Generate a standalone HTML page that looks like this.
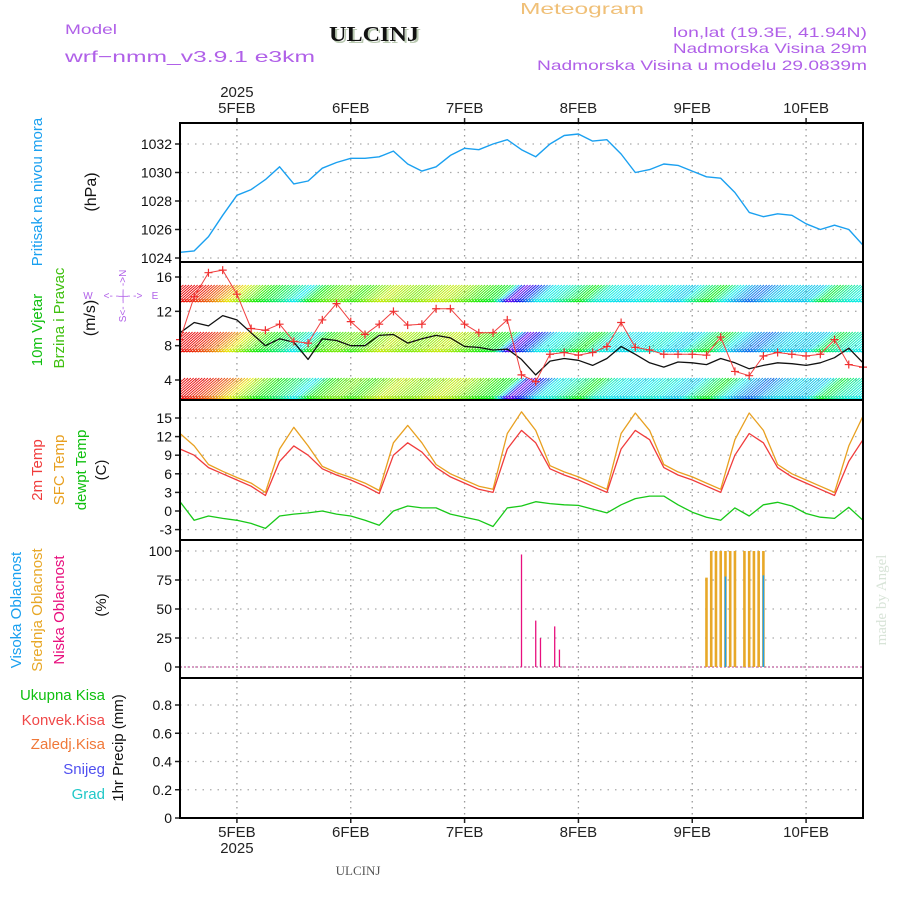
<!DOCTYPE html>
<html><head><meta charset="utf-8"><style>
html,body{margin:0;padding:0;background:#fff;}
svg{display:block;font-family:"Liberation Sans","DejaVu Sans",sans-serif;}
</style></head><body>
<svg id="c" width="900" height="900" viewBox="0 0 900 900" xmlns="http://www.w3.org/2000/svg">
<g>
<text x="65" y="34" font-size="14" fill="#b060e8" textLength="52" lengthAdjust="spacingAndGlyphs">Model</text>
<text x="65" y="62" font-size="16" fill="#b060e8" textLength="250" lengthAdjust="spacingAndGlyphs">wrf−nmm_v3.9.1  e3km</text>
<text x="331" y="43" font-size="21" font-weight="bold" font-family="Liberation Serif,serif" fill="#b8c8b0" textLength="90" lengthAdjust="spacingAndGlyphs">ULCINJ</text>
<text x="329" y="41" font-size="21" font-weight="bold" font-family="Liberation Serif,serif" fill="#111" textLength="90" lengthAdjust="spacingAndGlyphs">ULCINJ</text>
<text x="520" y="14" font-size="16" fill="#f0c078" textLength="124" lengthAdjust="spacingAndGlyphs">Meteogram</text>
<text x="867" y="37" font-size="14" fill="#b060e8" text-anchor="end" textLength="194" lengthAdjust="spacingAndGlyphs">lon,lat (19.3E, 41.94N)</text>
<text x="867" y="53" font-size="14" fill="#b060e8" text-anchor="end" textLength="194" lengthAdjust="spacingAndGlyphs">Nadmorska Visina 29m</text>
<text x="867" y="70" font-size="14" fill="#b060e8" text-anchor="end" textLength="330" lengthAdjust="spacingAndGlyphs">Nadmorska Visina u modelu 29.0839m</text>
<text x="358" y="875" font-size="13" font-family="Liberation Serif,serif" fill="#555" text-anchor="middle">ULCINJ</text>
<text transform="translate(886,600) rotate(-90)" font-size="15" font-family="Liberation Serif,serif" fill="#d8e4d8" text-anchor="middle">made by Angel</text>
</g>
<g id="grid"></g>
<g id="marks"></g>
<g id="frames"></g>
<g id="labels"></g>
</svg>
<script>
// ---- data (3-hourly from 4FEB 12z to 10FEB 12z) ----
const dateLabels = ["5FEB","6FEB","7FEB","8FEB","9FEB","10FEB"];
const pressure = [1024.4,1024.5,1025.5,1027.0,1028.4,1028.8,1029.5,1030.4,1029.2,1029.4,1030.3,1030.7,1031.0,1031.0,1031.1,1031.5,1030.6,1030.1,1030.4,1031.2,1031.7,1031.6,1032.0,1032.3,1031.6,1031.1,1032.0,1032.6,1032.7,1032.2,1032.3,1031.3,1030.0,1030.2,1030.6,1030.5,1030.1,1029.7,1029.6,1028.6,1027.2,1026.9,1027.1,1027.0,1026.4,1026.0,1026.3,1026.0,1024.9];
const windSpeed = [9.5,10.7,10.3,11.5,11.0,9.5,8.0,8.8,8.4,6.4,8.8,8.6,8.0,8.0,9.2,9.3,8.3,8.8,9.2,8.9,7.9,7.8,7.5,7.6,6.4,4.6,6.2,6.5,6.3,5.7,6.5,7.9,7.0,6.0,5.5,6.1,6.0,5.8,6.5,6.0,5.3,5.7,6.0,5.9,5.7,6.0,6.6,7.7,6.0];
const windGust = [8.7,13.7,16.5,16.8,14.0,10.0,9.8,10.5,8.5,8.3,11.0,12.9,10.8,9.3,10.5,12.0,10.4,10.5,12.3,12.3,10.5,9.5,9.5,11.0,4.6,3.8,7.0,7.2,6.9,7.2,7.9,10.7,7.8,7.5,7.0,7.0,7.0,6.9,9.0,5.0,4.5,6.8,7.2,7.0,6.8,7.0,8.7,5.8,5.5];
const windHue = [0,10,25,50,80,110,130,150,185,120,100,90,110,90,70,80,90,80,70,80,100,115,130,270,230,180,175,150,120,170,180,185,180,170,185,190,150,120,175,200,215,195,185,190,190,130,160,175,180];
const temp2m = [10.0,9.0,7.0,6.0,5.0,4.0,2.5,8.0,10.5,9.0,6.8,5.8,5.0,4.0,2.8,9.0,11.0,9.5,7.0,5.5,4.5,3.5,3.0,10.0,13.0,11.0,6.8,5.8,5.0,4.0,3.0,10.0,13.0,11.5,7.0,5.8,5.0,4.0,3.0,9.0,12.5,11.0,7.0,5.5,4.5,3.5,2.5,8.0,11.5];
const tempSfc = [12.5,10.5,7.5,6.4,5.4,4.5,3.0,10.0,13.5,10.5,7.2,6.2,5.4,4.5,3.3,11.0,13.8,11.0,7.5,6.0,5.0,4.0,3.5,12.5,16.0,13.0,7.3,6.3,5.5,4.5,3.5,12.5,15.8,13.0,7.5,6.3,5.5,4.5,3.5,11.5,15.8,13.0,7.5,6.0,5.0,4.0,3.0,10.5,15.3];
const dewPoint = [1.5,-1.5,-0.8,-1.2,-1.5,-2.0,-2.8,-0.8,-0.5,-0.3,0.0,-0.5,-0.8,-1.5,-2.3,0.0,0.8,0.5,0.5,-0.5,-1.0,-1.5,-2.5,0.5,0.8,1.5,1.2,1.0,0.9,0.3,-0.3,1.0,2.0,2.4,2.4,1.0,-0.2,-1.0,-1.5,0.5,-0.8,1.0,1.4,0.8,-0.4,-1.0,-1.2,0.6,-1.5];
const lowCloudHours = [72,75,76,79,80];
const lowCloudPct = [97,40,25,35,15];
const midCloudHours = [111,112,113,114,115,116,117,119,120,121,122,123];
const midCloudPct = [77,100,100,100,100,100,100,100,100,100,100,100];
const highCloudHours = [115,123];
const highCloudPct = [78,79];
const pTicks = [1024,1026,1028,1030,1032];
const wTicks = [4,8,12,16];
const tTicks = [-3,0,3,6,9,12,15];
const cTicks = [0,25,50,75,100];
const rTicks = [0,0.2,0.4,0.6,0.8];

const NS="http://www.w3.org/2000/svg";
const X0=180,X1=863,HRS=144;
const xh=h=>X0+h*(X1-X0)/HRS;
const lin=(v0,y0,v1,y1)=>v=>y0+(v-v0)*(y1-y0)/(v1-v0);
const yP=lin(1024,258,1032,144), yW=lin(4,380,16,277), yT=lin(0,511,15,418), yC=lin(0,667,100,551), yR=lin(0,818,0.8,705);
const panels=[[123,262],[262,400],[400,540],[540,678],[678,818]];
function el(tag,attrs,parent){const e=document.createElementNS(NS,tag);for(const k in attrs)e.setAttribute(k,attrs[k]);parent.appendChild(e);return e;}
const G=document.getElementById('grid'),M=document.getElementById('marks'),F=document.getElementById('frames'),L=document.getElementById('labels');

dateLabels.forEach((d,i)=>{
  const x=xh(12+24*i);
  const g=el('line',{x1:x,x2:x,y1:123,y2:818,stroke:'#999','stroke-width':1.3,'stroke-dasharray':'1.5,4.5'},G);
  
  
  const t=el('text',{x:x,y:113,'font-size':15,'text-anchor':'middle',fill:'#222'},L);t.textContent=d;
  
  
  const b=el('text',{x:x,y:837,'font-size':15,'text-anchor':'middle',fill:'#222'},L);b.textContent=d;
  
  
  [123,818].forEach(yy=>{const tk=el('line',{x1:x,x2:x,y1:yy,y2:yy+(yy==123?-5:5),stroke:'#222','stroke-width':1.5},F);
    
    });
});
[[97,'top-year'],[853,'bottom-year']].forEach(([yy,n])=>{const t=el('text',{x:xh(12),y:yy,'font-size':15,'text-anchor':'middle',fill:'#222'},L);t.textContent='2025';
  
  });

function yTicks(ticks,fy,fmt,name){
  ticks.forEach(v=>{const y=fy(v);
    const g=el('line',{x1:X0,x2:X1,y1:y,y2:y,stroke:'#aaa','stroke-width':1.3,'stroke-dasharray':'1.5,6'},G);
    
    
    const tk=el('line',{x1:X0-5,x2:X0,y1:y,y2:y,stroke:'#222','stroke-width':1.5},F);
    
    
    const t=el('text',{x:X0-8,y:y+5,'font-size':14,'text-anchor':'end',fill:'#111'},L);t.textContent=fmt(v);
    
    });
}
yTicks(pTicks,yP,v=>v,'pressure');
yTicks(wTicks,yW,v=>v,'wind');
yTicks(tTicks,yT,v=>v,'temp');
yTicks(cTicks,yC,v=>v,'cloud');
yTicks(rTicks,yR,v=>v==0?'0':v.toFixed(1),'precip');

function line(arr,fy,color,w,name){
  const pts=arr.map((v,i)=>xh(i*3).toFixed(1)+','+fy(v).toFixed(1)).join(' ');
  const p=el('polyline',{points:pts,fill:'none',stroke:color,'stroke-width':w,'stroke-linejoin':'round'},M);
  
  
  return p;
}
const bands=[[285,302],[332,352],[378,399]];
const hueAt=h=>{const i=Math.min(Math.floor(h/3),windHue.length-2),f=h/3-i;return windHue[i]+(windHue[i+1]-windHue[i])*f;};
const defs=el('defs',{},document.getElementById('c'));
const cp=el('clipPath',{id:'wclip'},defs);el('rect',{x:X0,y:262,width:X1-X0,height:138},cp);
const wb=el('g',{'clip-path':'url(#wclip)'},M);


for(let h=-4;h<=HRS;h+=0.6){
  const x=xh(h),col='hsl('+hueAt(Math.max(0,h))+',92%,48%)';
  bands.forEach(([t,b])=>{
    const l=el('line',{x1:x,y1:b,x2:x+(b-t)*1.15,y2:t,stroke:col,'stroke-width':0.9},wb);
    
    
    const a=el('path',{d:`M${x-2},${b-3}L${x},${b}L${x+3},${b-1}`,fill:'none',stroke:col,'stroke-width':0.9},wb);
    
    
  });
}
line(pressure,yP,'#1aa0f0',1.4,'pressure-line');
line(windSpeed,yW,'#111',1.3,'wind-speed-line');
line(windGust,yW,'#f04040',1,'wind-gust-line');
windGust.forEach((v,i)=>{const x=xh(i*3),y=yW(v);
  const c=el('path',{d:`M${x-4},${y}h8M${x},${y-4}v8`,stroke:'#f03030','stroke-width':1.2},M);
  
  });
line(tempSfc,yT,'#e8a020',1.3,'sfc-temp-line');
line(temp2m,yT,'#f03c3c',1.3,'temp-2m-line');
line(dewPoint,yT,'#18c818',1.3,'dewpoint-line');
const cb=el('line',{x1:X0,x2:X1,y1:yC(0),y2:yC(0),stroke:'#c060a0','stroke-width':1.2,'stroke-dasharray':'2,2'},M);


function bars(hours,vals,color,w,name){hours.forEach((h,i)=>{
  const r=el('line',{x1:xh(h),x2:xh(h),y1:yC(0),y2:yC(vals[i]),stroke:color,'stroke-width':w},M);
  
  });}
bars(midCloudHours,midCloudPct,'#e8a828',2.6,'mid-cloud-bar');
bars(lowCloudHours,lowCloudPct,'#e8107e',1.3,'low-cloud-bar');
bars(highCloudHours,highCloudPct,'#1a9ff0',1.6,'high-cloud-bar');
const rb=el('line',{x1:X0,x2:X1,y1:818,y2:818,stroke:'#222','stroke-width':2,'stroke-dasharray':'5,2'},M);


panels.forEach(([t,b])=>{const r=el('rect',{x:X0,y:t,width:X1-X0,height:b-t,fill:'none',stroke:'#000','stroke-width':2},F);
  
  });

function vlabel(x,y,txt,color,name,size){
  const t=el('text',{transform:`translate(${x},${y}) rotate(-90)`,'font-size':size||15,'text-anchor':'middle',fill:color},L);t.textContent=txt;
  
  }
vlabel(42,192,'Pritisak  na  nivou  mora','#1aa0f0','pressure-title');
vlabel(96,192,'(hPa)','#111','pressure-unit',16);
vlabel(42,330,'10m  Vjetar','#10c010','wind-title-1');
vlabel(64,318,'Brzina  i  Pravac','#40c010','wind-title-2');
vlabel(95,318,'(m/s)','#111','wind-unit',16);
vlabel(42,470,'2m  Temp','#f03c3c','temp-title');
vlabel(64,470,'SFC  Temp','#e8a020','sfc-title');
vlabel(86,470,'dewpt  Temp','#10c010','dewpt-title');
vlabel(106,470,'(C)','#111','temp-unit');
vlabel(21,610,'Visoka  Oblacnost','#1aa0f0','high-cloud-title');
vlabel(42,610,'Srednja  Oblacnost','#e8a828','mid-cloud-title');
vlabel(64,610,'Niska  Oblacnost','#e8107e','low-cloud-title');
vlabel(106,605,'(%)','#111','cloud-unit');
vlabel(123,748,'1hr  Precip  (mm)','#111','precip-title');
[['Ukupna  Kisa','#10c010',700,'total-precip-legend'],['Konvek.Kisa','#f04848',725,'convective-legend'],['Zaledj.Kisa','#f07838',749,'freezing-legend'],['Snijeg','#5050f0',774,'snow-legend'],['Grad','#20c8c8',799,'hail-legend']].forEach(([s,c,y,n])=>{
  const t=el('text',{x:105,y:y,'font-size':15,'text-anchor':'end',fill:c},L);t.textContent=s;
  
  });
[['W',88,299],['E',155,299],['<- - | - ->',123,299]].forEach(([s,x,y])=>{
  const t=el('text',{x:x,y:y,'font-size':10,'text-anchor':'middle',fill:'#b060e8'},L);t.textContent=s;
  
  });
vlabel(126,296,'S<- - | - ->N','#b060e8','compass-vertical',10);
</script>
</body></html>
